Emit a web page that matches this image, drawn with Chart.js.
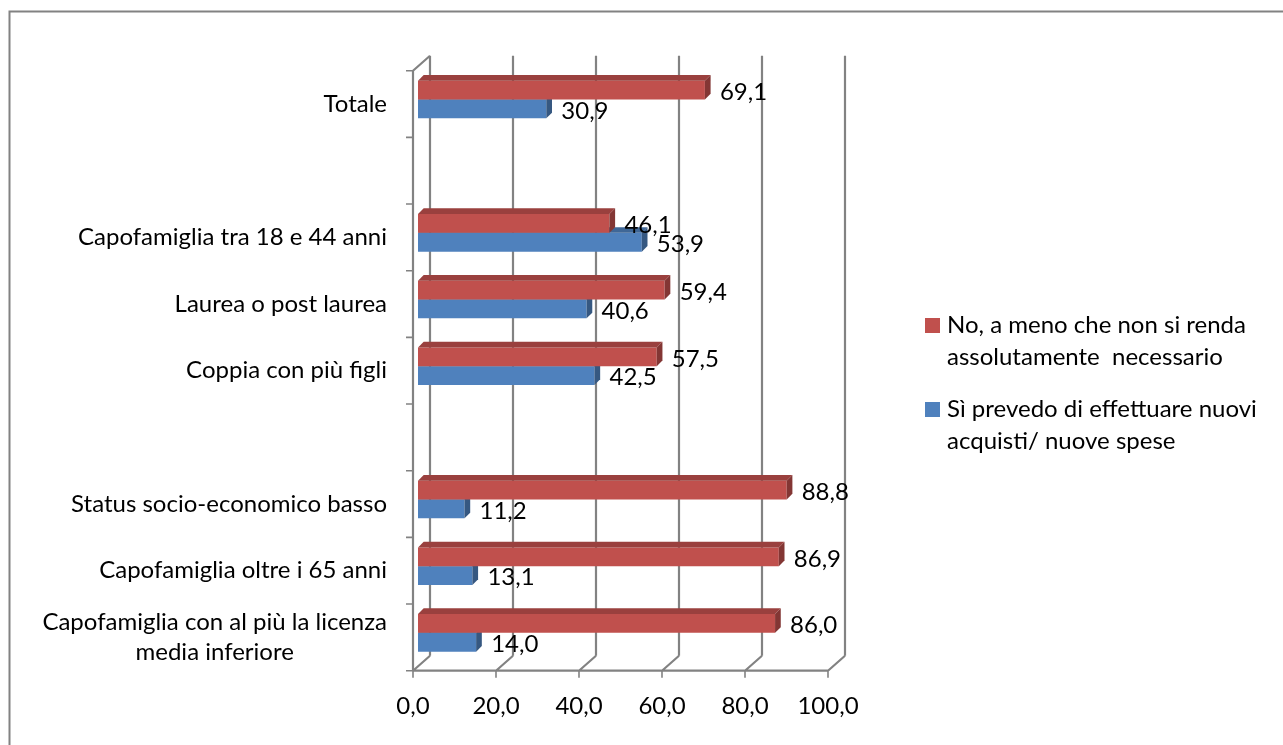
<!DOCTYPE html>
<html>
<head>
<meta charset="utf-8">
<script src="https://cdn.jsdelivr.net/npm/chart.js@4/dist/chart.umd.min.js"></script>
<style>
  html, body { margin: 0; padding: 0; background: #ffffff; }
  #wrap { width: 1283px; height: 745px; position: relative; }
</style>
</head>
<body>
<div id="wrap"><canvas id="chart"></canvas></div>
<script>
// Categories, top to bottom (empty strings are spacer rows)
const categories = [
  'Totale',
  '',
  'Capofamiglia tra 18 e 44 anni',
  'Laurea o post laurea',
  'Coppia con più figli',
  '',
  'Status socio-economico basso',
  'Capofamiglia oltre i 65 anni',
  ['Capofamiglia con al più la licenza', 'media inferiore']
];

// Series values (percent)
const noValues = [69.1, null, 46.1, 59.4, 57.5, null, 88.8, 86.9, 86.0];
const siValues = [30.9, null, 53.9, 40.6, 42.5, null, 11.2, 13.1, 14.0];

// Series names, split into legend lines
const noName = ['No, a meno che non si renda', 'assolutamente  necessario'];
const siName = ['Sì prevedo di effettuare nuovi', 'acquisti/ nuove spese'];

// Value axis ticks
const xTicks = [0, 20, 40, 60, 80, 100];

const FONT = 'Lato, "Open Sans", sans-serif';
const FONT_SIZE = 24;
const GRID = '#828282';

// pseudo-3D offsets relative to the bar plane
const FRONT = { dx: -5, dy: 4.5 };
const BACK = { dx: 12, dy: -10.5 };
const DEPTH = 5.7;

const fmt = v => v.toFixed(1).replace('.', ',');

function shade(hex, f) {
  const n = parseInt(hex.slice(1), 16);
  const r = Math.round(((n >> 16) & 255) * f);
  const g = Math.round(((n >> 8) & 255) * f);
  const b = Math.round((n & 255) * f);
  return `rgb(${r},${g},${b})`;
}

const framePlugin = {
  id: 'frame',
  beforeDatasetsDraw(chart) {
    const { ctx, chartArea: a, scales: { x } } = chart;
    ctx.save();

    // outer frame
    ctx.strokeStyle = GRID;
    ctx.lineWidth = 2;
    ctx.strokeRect(9.5, 11.5, 1400, 900);

    const fTop = a.top + FRONT.dy, fBot = a.bottom + FRONT.dy;
    const bTop = a.top + BACK.dy, bBot = a.bottom + BACK.dy;
    const xf = v => Math.round(x.getPixelForValue(v) + FRONT.dx);
    const xb = v => Math.round(x.getPixelForValue(v) + BACK.dx);

    ctx.lineWidth = 2.2;
    ctx.strokeStyle = GRID;
    ctx.beginPath();
    // back wall gridlines and floor diagonals
    xTicks.forEach(v => {
      ctx.moveTo(xb(v), bTop); ctx.lineTo(xb(v), bBot);
      ctx.moveTo(xf(v), fBot); ctx.lineTo(xb(v), bBot);
    });
    // left wall edge
    ctx.moveTo(xf(0), fTop); ctx.lineTo(xb(0), bTop);
    // front category axis
    ctx.moveTo(xf(0), fTop); ctx.lineTo(xf(0), fBot);
    // front value axis
    ctx.moveTo(xf(0), fBot); ctx.lineTo(xf(100), fBot);
    ctx.stroke();

    // tick marks
    ctx.lineWidth = 1.6;
    ctx.beginPath();
    const slot = (a.bottom - a.top) / categories.length;
    for (let i = 0; i <= categories.length; i++) {
      const y = fTop + i * slot;
      ctx.moveTo(xf(0) - 7, y); ctx.lineTo(xf(0), y);
    }
    xTicks.forEach(v => { ctx.moveTo(xf(v), fBot); ctx.lineTo(xf(v), fBot + 7); });
    ctx.stroke();

    // value axis labels
    ctx.fillStyle = '#000';
    ctx.font = `${FONT_SIZE}px ${FONT}`;
    ctx.textAlign = 'center';
    ctx.textBaseline = 'middle';
    xTicks.forEach(v => ctx.fillText(fmt(v), xf(v), 706));

    // category labels (multi-line labels are centred as a block)
    const lineH = 30;
    categories.forEach((lab, i) => {
      if (!lab || lab.length === 0) return;
      const yc = fTop + (i + 0.5) * slot;
      const right = xf(0) - 26;
      if (Array.isArray(lab)) {
        const w = Math.max(...lab.map(s => ctx.measureText(s).width));
        const cx = right - w / 2;
        ctx.textAlign = 'center';
        lab.forEach((s, k) => ctx.fillText(s, cx, yc + (k - (lab.length - 1) / 2) * lineH));
      } else {
        ctx.textAlign = 'right';
        ctx.fillText(lab, right, yc);
      }
    });

    // legend
    const items = [
      { lines: noName, color: '#C0504D', base: 333 },
      { lines: siName, color: '#4F81BD', base: 417 }
    ];
    ctx.textAlign = 'left';
    ctx.textBaseline = 'alphabetic';
    items.forEach(it => {
      ctx.fillStyle = it.color;
      ctx.fillRect(925, it.base - 15, 15, 15);
      ctx.fillStyle = '#000';
      it.lines.forEach((s, k) => ctx.fillText(s, 947, it.base + k * 31.5));
    });

    ctx.restore();
  },
  afterDatasetDraw(chart, args) {
    // top and end faces of every bar of this series
    const { ctx } = chart;
    const ds = chart.data.datasets[args.index];
    const base = ds.backgroundColor;
    ctx.save();
    args.meta.data.forEach((bar, i) => {
      if (ds.data[i] == null) return;
      const { x, y, base: x0, height } = bar.getProps(['x', 'y', 'base', 'height'], true);
      const top = y - height / 2, bot = y + height / 2;
      ctx.fillStyle = shade(base, 0.8);
      ctx.beginPath();
      ctx.moveTo(x0, top);
      ctx.lineTo(x0 + DEPTH, top - DEPTH);
      ctx.lineTo(x + DEPTH, top - DEPTH);
      ctx.lineTo(x, top);
      ctx.closePath();
      ctx.fill();
      ctx.fillStyle = shade(base, 0.68);
      ctx.beginPath();
      ctx.moveTo(x, top);
      ctx.lineTo(x + DEPTH, top - DEPTH);
      ctx.lineTo(x + DEPTH, bot - DEPTH);
      ctx.lineTo(x, bot);
      ctx.closePath();
      ctx.fill();
    });
    ctx.restore();
  },
  afterDatasetsDraw(chart) {
    // value labels at the end of each bar
    const { ctx } = chart;
    ctx.save();
    ctx.fillStyle = '#000';
    ctx.font = `${FONT_SIZE}px ${FONT}`;
    ctx.textAlign = 'left';
    ctx.textBaseline = 'middle';
    chart.data.datasets.forEach((ds, di) => {
      chart.getDatasetMeta(di).data.forEach((bar, i) => {
        const v = ds.data[i];
        if (v == null) return;
        const { x, y } = bar.getProps(['x', 'y'], true);
        ctx.fillText(fmt(v), x + 15, y + 2);
      });
    });
    ctx.restore();
  }
};

new Chart(document.getElementById('chart'), {
  type: 'bar',
  data: {
    labels: categories,
    datasets: [
      { label: noName.join(' '), data: noValues, backgroundColor: '#C0504D' },
      { label: siName.join(' '), data: siValues, backgroundColor: '#4F81BD' }
    ]
  },
  options: {
    indexAxis: 'y',
    responsive: true,
    maintainAspectRatio: false,
    animation: false,
    barPercentage: 1,
    categoryPercentage: 0.564,
    layout: { padding: { left: 418, right: 1283 - 833.2, top: 66.2, bottom: 745 - 666.2 } },
    scales: {
      x: { display: false, min: 0, max: 100 },
      y: { display: false }
    },
    plugins: { legend: { display: false }, tooltip: { enabled: false } }
  },
  plugins: [framePlugin]
});
</script>
</body>
</html>
